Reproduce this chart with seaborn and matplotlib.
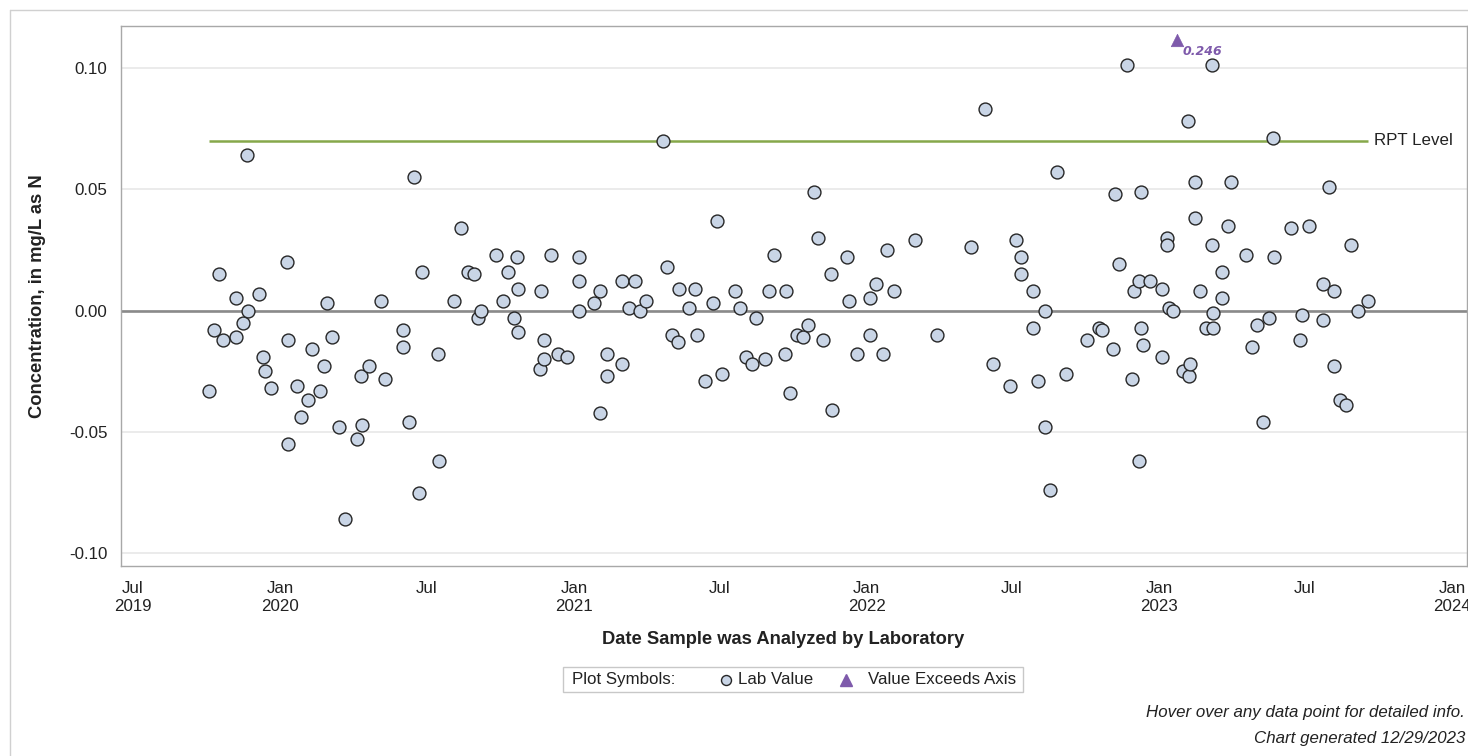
import matplotlib
matplotlib.use("Agg")
import numpy as np
import pandas as pd
import matplotlib.pyplot as plt
import seaborn as sns
from matplotlib.lines import Line2D
from matplotlib.patches import Rectangle

# ---------------- data ----------------
sample_dates = [
    "2019-10-04", "2019-10-10", "2019-10-16", "2019-10-22", "2019-11-07", "2019-11-07",
    "2019-11-16", "2019-11-20", "2019-11-22", "2019-12-05", "2019-12-10", "2019-12-13",
    "2019-12-20", "2020-01-09", "2020-01-10", "2020-01-10", "2020-01-22", "2020-01-27",
    "2020-02-05", "2020-02-10", "2020-02-19", "2020-02-24", "2020-02-28", "2020-03-06",
    "2020-03-14", "2020-03-22", "2020-04-06", "2020-04-11", "2020-04-12", "2020-04-20",
    "2020-05-06", "2020-05-11", "2020-06-02", "2020-06-02", "2020-06-10", "2020-06-16",
    "2020-06-22", "2020-06-25", "2020-07-15", "2020-07-17", "2020-08-04", "2020-08-13",
    "2020-08-22", "2020-08-29", "2020-09-03", "2020-09-07", "2020-09-26", "2020-10-04",
    "2020-10-11", "2020-10-18", "2020-10-22", "2020-10-23", "2020-10-23", "2020-11-20",
    "2020-11-21", "2020-11-25", "2020-11-25", "2020-12-04", "2020-12-12", "2020-12-24",
    "2021-01-07", "2021-01-07", "2021-01-07", "2021-01-26", "2021-02-03", "2021-02-03",
    "2021-02-11", "2021-02-11", "2021-03-02", "2021-03-02", "2021-03-11", "2021-03-18",
    "2021-03-25", "2021-04-01", "2021-04-22", "2021-04-27", "2021-05-03", "2021-05-11",
    "2021-05-12", "2021-05-24", "2021-06-01", "2021-06-03", "2021-06-14", "2021-06-23",
    "2021-06-28", "2021-07-05", "2021-07-21", "2021-07-27", "2021-08-04", "2021-08-11",
    "2021-08-16", "2021-08-27", "2021-09-01", "2021-09-08", "2021-09-21", "2021-09-22",
    "2021-09-27", "2021-10-06", "2021-10-13", "2021-10-20", "2021-10-27", "2021-11-01",
    "2021-11-08", "2021-11-17", "2021-11-19", "2021-12-07", "2021-12-10", "2021-12-20",
    "2022-01-05", "2022-01-05", "2022-01-12", "2022-01-21", "2022-01-26", "2022-02-04",
    "2022-03-02", "2022-03-30", "2022-05-11", "2022-05-29", "2022-06-08", "2022-06-29",
    "2022-07-06", "2022-07-12", "2022-07-12", "2022-07-27", "2022-07-27", "2022-08-03",
    "2022-08-11", "2022-08-11", "2022-08-17", "2022-08-26", "2022-09-07", "2022-10-03",
    "2022-10-17", "2022-10-21", "2022-11-04", "2022-11-07", "2022-11-12", "2022-11-22",
    "2022-11-28", "2022-11-30", "2022-12-06", "2022-12-06", "2022-12-09", "2022-12-09",
    "2022-12-12", "2022-12-20", "2023-01-04", "2023-01-04", "2023-01-10", "2023-01-11",
    "2023-01-13", "2023-01-18", "2023-01-30", "2023-02-06", "2023-02-07", "2023-02-08",
    "2023-02-14", "2023-02-14", "2023-02-20", "2023-02-28", "2023-03-07", "2023-03-07",
    "2023-03-09", "2023-03-09", "2023-03-20", "2023-03-20", "2023-03-27", "2023-03-31",
    "2023-04-19", "2023-04-26", "2023-05-03", "2023-05-10", "2023-05-17", "2023-05-22",
    "2023-05-24", "2023-06-14", "2023-06-25", "2023-06-28", "2023-07-07", "2023-07-24",
    "2023-07-24", "2023-07-31", "2023-08-07", "2023-08-07", "2023-08-14", "2023-08-21",
    "2023-08-28", "2023-09-05", "2023-09-18",
]
lab_values = [
    -0.033, -0.008, 0.015, -0.012, 0.005, -0.011,
    -0.005, 0.064, 0.000, 0.007, -0.019, -0.025,
    -0.032, 0.020, -0.012, -0.055, -0.031, -0.044,
    -0.037, -0.016, -0.033, -0.023, 0.003, -0.011,
    -0.048, -0.086, -0.053, -0.027, -0.047, -0.023,
    0.004, -0.028, -0.008, -0.015, -0.046, 0.055,
    -0.075, 0.016, -0.018, -0.062, 0.004, 0.034,
    0.016, 0.015, -0.003, 0.000, 0.023, 0.004,
    0.016, -0.003, 0.022, 0.009, -0.009, -0.024,
    0.008, -0.012, -0.020, 0.023, -0.018, -0.019,
    0.022, 0.012, 0.000, 0.003, 0.008, -0.042,
    -0.018, -0.027, 0.012, -0.022, 0.001, 0.012,
    0.000, 0.004, 0.070, 0.018, -0.010, -0.013,
    0.009, 0.001, 0.009, -0.010, -0.029, 0.003,
    0.037, -0.026, 0.008, 0.001, -0.019, -0.022,
    -0.003, -0.020, 0.008, 0.023, -0.018, 0.008,
    -0.034, -0.010, -0.011, -0.006, 0.049, 0.030,
    -0.012, 0.015, -0.041, 0.022, 0.004, -0.018,
    0.005, -0.010, 0.011, -0.018, 0.025, 0.008,
    0.029, -0.010, 0.026, 0.083, -0.022, -0.031,
    0.029, 0.022, 0.015, 0.008, -0.007, -0.029,
    0.000, -0.048, -0.074, 0.057, -0.026, -0.012,
    -0.007, -0.008, -0.016, 0.048, 0.019, 0.101,
    -0.028, 0.008, -0.062, 0.012, 0.049, -0.007,
    -0.014, 0.012, 0.009, -0.019, 0.030, 0.027,
    0.001, 0.000, -0.025, 0.078, -0.027, -0.022,
    0.053, 0.038, 0.008, -0.007, 0.101, 0.027,
    -0.001, -0.007, 0.005, 0.016, 0.035, 0.053,
    0.023, -0.015, -0.006, -0.046, -0.003, 0.071,
    0.022, 0.034, -0.012, -0.002, 0.035, 0.011,
    -0.004, 0.051, 0.008, -0.023, -0.037, -0.039,
    0.027, 0.000, 0.004,
]
exceed_dates = ["2023-01-23"]
exceed_values = [0.246]
rpt_level = 0.07

y_ticks = [-0.10, -0.05, 0.00, 0.05, 0.10]
y_tick_labels = ["-0.10", "-0.05", "0.00", "0.05", "0.10"]
x_tick_dates = ["2019-07-01", "2020-01-01", "2020-07-01", "2021-01-01", "2021-07-01",
                "2022-01-01", "2022-07-01", "2023-01-01", "2023-07-01", "2024-01-01"]
x_tick_labels = ["Jul\n2019", "Jan\n2020", "Jul", "Jan\n2021", "Jul",
                 "Jan\n2022", "Jul", "Jan\n2023", "Jul", "Jan\n2024"]
x_label = "Date Sample was Analyzed by Laboratory"
y_label = "Concentration, in mg/L as N"
legend_title = "Plot Symbols:"
legend_labels = ["Lab Value", "Value Exceeds Axis"]
footer_lines = ["Hover over any data point for detailed info.", "Chart generated 12/29/2023"]

# ---------------- style ----------------
sns.set_style("white")
plt.rcParams["font.family"] = ["Liberation Sans", "DejaVu Sans"]

W, H = 1468, 756
FACE = "#c9d5e6"
EDGE = "#262626"
PURPLE = "#7e5aab"
GREEN = "#86a84a"
TXT = "#222222"
FS = 12.2

def fx(px):
    return px / W

def fy(py):
    return 1 - py / H

fig = plt.figure(figsize=(W / 100, H / 100), dpi=100)
fig.patch.set_facecolor("white")

L, R, T, B = 120.7, 1466.7, 26.0, 565.7
ax = fig.add_axes([fx(L), fy(B), fx(R) - fx(L), fy(T) - fy(B)])

df = pd.DataFrame({"date": pd.to_datetime(sample_dates), "value": lab_values})
ex = pd.DataFrame({"date": pd.to_datetime(exceed_dates), "value": exceed_values})

y_lo, y_hi = -0.1051, 0.1172
axis_cap = 0.1114
ex["shown"] = np.minimum(ex["value"], axis_cap)

# zero reference and RPT line
ax.axhline(0, color="#8a8a8a", lw=1.9, zorder=2)
ax.plot([df["date"].min(), df["date"].max()], [rpt_level, rpt_level],
        color=GREEN, lw=1.8, zorder=3, solid_capstyle="butt")

sns.scatterplot(data=df, x="date", y="value", ax=ax, s=86, color=FACE,
                edgecolor=EDGE, linewidth=1.0, zorder=5, legend=False)
sns.scatterplot(data=ex, x="date", y="shown", ax=ax, s=80, marker="^",
                color=PURPLE, edgecolor=PURPLE, linewidth=0.5, zorder=6, legend=False)

for d, v, s in zip(ex["date"], ex["value"], ex["shown"]):
    ax.annotate(f"{v:.3f}", xy=(d, s), xytext=(4, -8), textcoords="offset points",
                ha="left", va="center", fontsize=9, color=PURPLE,
                fontweight="bold", fontstyle="italic", family="DejaVu Sans")

ax.annotate("RPT Level", xy=(df["date"].max(), rpt_level), xytext=(4.5, 0),
            textcoords="offset points", ha="left", va="center", fontsize=FS, color=TXT)

ax.set_xlim(pd.Timestamp("2019-06-16"), pd.Timestamp("2024-01-19"))
ax.set_ylim(y_lo, y_hi)
ax.set_yticks(y_ticks)
ax.set_yticklabels(y_tick_labels)
ax.set_xticks(pd.to_datetime(x_tick_dates))
ax.set_xticklabels(x_tick_labels, linespacing=1.25)

ax.yaxis.grid(True, color="#e8e8e8", lw=1.2)
ax.xaxis.grid(False)
ax.set_axisbelow(True)
for sp in ax.spines.values():
    sp.set_color("#a8a8a8")
    sp.set_linewidth(1.0)
ax.tick_params(axis="both", which="both", direction="out", length=5.5, width=1.0,
               color="#a8a8a8", labelsize=FS, labelcolor=TXT)
ax.tick_params(axis="y", pad=4)
ax.tick_params(axis="x", pad=5.5)

ax.set_xlabel(x_label, fontsize=13.2, fontweight="bold", color=TXT)
ax.set_ylabel(y_label, fontsize=13.2, fontweight="bold", color=TXT)
ax.xaxis.set_label_coords((783 - L) / (R - L), (B - 639) / (B - T))
ax.xaxis.label.set_va("center")
ax.yaxis.set_label_coords((38 - L) / (R - L), 0.5)
ax.yaxis.label.set_va("center")

# outer frame (top + left edges visible)
fig.add_artist(Line2D([fx(10), 1.0], [fy(10), fy(10)], color="#d0d0d0", lw=1.0,
                      transform=fig.transFigure))
fig.add_artist(Line2D([fx(10), fx(10)], [fy(10), 0.0], color="#d0d0d0", lw=1.0,
                      transform=fig.transFigure))

# legend box
lx0, lx1, ly0, ly1 = 562.7, 1023.3, 666.7, 692.3
fig.add_artist(Rectangle((fx(lx0), fy(ly1)), fx(lx1) - fx(lx0), fy(ly0) - fy(ly1),
                         transform=fig.transFigure, fill=False, edgecolor="#c8c8c8", lw=1.0))
ly = fy((ly0 + ly1) / 2)
fig.text(fx(571.5), ly, legend_title, ha="left", va="center", fontsize=FS, color=TXT)
fig.add_artist(Line2D([fx(725.5)], [ly], marker="o", markersize=7.2, markerfacecolor=FACE,
                      markeredgecolor=EDGE, markeredgewidth=1.0, linestyle="none",
                      transform=fig.transFigure))
fig.text(fx(737.5), ly, legend_labels[0], ha="left", va="center", fontsize=FS, color=TXT)
fig.add_artist(Line2D([fx(846)], [ly], marker="^", markersize=8.5, markerfacecolor=PURPLE,
                      markeredgecolor=PURPLE, linestyle="none", transform=fig.transFigure))
fig.text(fx(867.7), ly, legend_labels[1], ha="left", va="center", fontsize=FS, color=TXT)

# footer
fig.text(fx(1465), fy(713), footer_lines[0], ha="right", va="center", fontsize=FS,
         fontstyle="italic", color=TXT)
fig.text(fx(1465), fy(738), footer_lines[1], ha="right", va="center", fontsize=FS,
         fontstyle="italic", color=TXT)

fig.savefig("out.png", dpi=100, facecolor="white")
